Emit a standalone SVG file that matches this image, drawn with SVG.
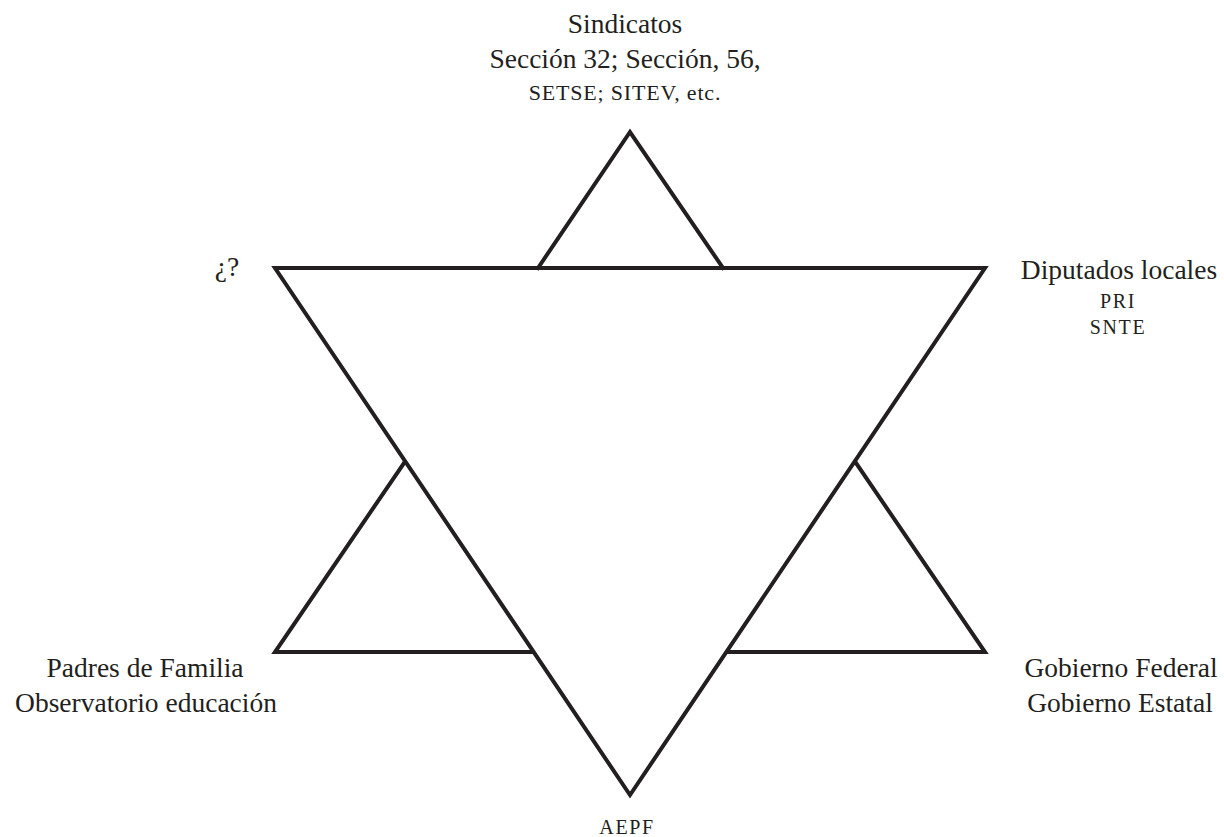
<svg xmlns="http://www.w3.org/2000/svg" width="1224" height="837" viewBox="0 0 1224 837">
<style>
.s{fill:none;stroke:#231f20;stroke-width:4;stroke-linejoin:miter;stroke-linecap:square}
.t{font-family:'Liberation Serif','DejaVu Serif',serif;fill:#231f20;text-anchor:middle}
.l{font-size:27.5px}
.m{font-size:22px;letter-spacing:0.8px}
.sc{font-size:20px;letter-spacing:1.6px}
</style>
<rect width="1224" height="837" fill="#fff"/>
<g id="connectors">
<polygon class="s" points="275,268 985,268 630,795"/>
<polyline class="s" points="538,268 630,132 723,268"/>
<polyline class="s" points="404,463 275,652 532,652"/>
<polyline class="s" points="856,463 985,652 728,652"/>
</g>
<g id="node-top">
<text class="t l" x="625" y="33">Sindicatos</text>
<text class="t l" x="625" y="68">Sección 32; Sección, 56,</text>
<text class="t m" x="625" y="100">SETSE; SITEV, etc.</text>
</g>
<g id="node-topleft">
<text class="t l" x="227" y="276">¿?</text>
</g>
<g id="node-topright">
<text class="t l" x="1119" y="279">Diputados locales</text>
<text class="t sc" x="1118" y="308">PRI</text>
<text class="t sc" x="1118" y="334">SNTE</text>
</g>
<g id="node-bottomleft">
<text class="t l" x="145" y="677">Padres de Familia</text>
<text class="t l" x="146" y="712">Observatorio educación</text>
</g>
<g id="node-bottomright">
<text class="t l" x="1121" y="677">Gobierno Federal</text>
<text class="t l" x="1120" y="712">Gobierno Estatal</text>
</g>
<g id="node-bottom">
<text class="t sc" x="627" y="834">AEPF</text>
</g>
</svg>
